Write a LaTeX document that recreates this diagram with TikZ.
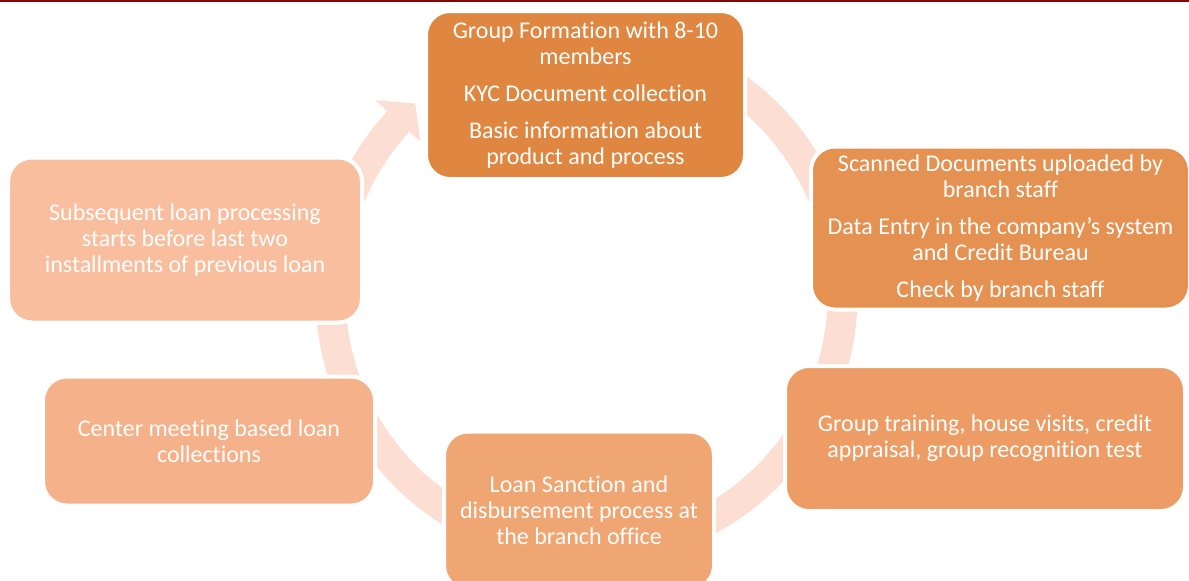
\documentclass[tikz,border=0pt]{standalone}
\usepackage{fontspec}
\setmainfont[Ligatures=NoCommon]{Carlito}
\usetikzlibrary{calc}

\definecolor{stepA}{RGB}{223,135,64}
\definecolor{stepB}{RGB}{228,145,81}
\definecolor{stepC}{RGB}{236,156,100}
\definecolor{stepD}{RGB}{240,166,114}
\definecolor{stepE}{RGB}{245,177,137}
\definecolor{stepF}{RGB}{248,190,158}
\definecolor{ringcol}{RGB}{252,222,210}
\definecolor{rulecol}{RGB}{128,10,10}

\tikzset{
  stage/.style={draw=white, line width=4pt, rounded corners=24pt, text=white,
    align=center, inner sep=0pt, font=\fontsize{24}{26}\selectfont},
  ring/.style={draw=ringcol, line width=30pt}
}

\begin{document}
\begin{tikzpicture}[x=1pt, y=-1pt]
            \clip (0,0) rectangle (1189,581);
            \fill[white] (0,0) rectangle (1189,581);
            \fill[rulecol] (0,0) rectangle (1189,1.6);
            % the cycle ring and its head
            \coordinate (c) at (586.5,295);
            \draw[ring] ([shift={(-100:256)}]c) arc[start angle=-100, end angle=222.7, radius=256];
            \fill[ringcol] ([shift={(222.7:287)}]c) -- ([shift={(228.2:257)}]c) -- ([shift={(222.7:226)}]c) -- cycle;
            % the six steps
            \node[stage, fill=stepA, minimum width=319pt, minimum height=168pt] (form) at (585.5,95)
                {Group Formation with 8-10\\members\\[11pt]KYC Document collection\\[11pt]Basic information about\\product and process};
            \node[stage, fill=stepB, minimum width=379pt, minimum height=163pt] (scan) at (1000.5,228)
                {Scanned Documents uploaded by\\branch staff\\[11pt]Data Entry in the company’s system\\and Credit Bureau\\[11pt]Check by branch staff};
            \node[stage, fill=stepC, minimum width=400pt, minimum height=145pt] (train) at (985,438.5)
                {Group training, house visits, credit\\appraisal, group recognition test};
            \node[stage, fill=stepD, minimum width=270pt, minimum height=158pt] (sanction) at (579,510.5)
                {Loan Sanction and\\disbursement process at\\the branch office};
            \node[stage, fill=stepE, minimum width=332pt, minimum height=129pt] (collect) at (209,441)
                {Center meeting based loan\\collections};
            \node[stage, fill=stepF, minimum width=354pt, minimum height=165pt] (repeat) at (185,240)
                {Subsequent loan processing\\starts before last two\\installments of previous loan};
        \end{tikzpicture}
\end{document}
